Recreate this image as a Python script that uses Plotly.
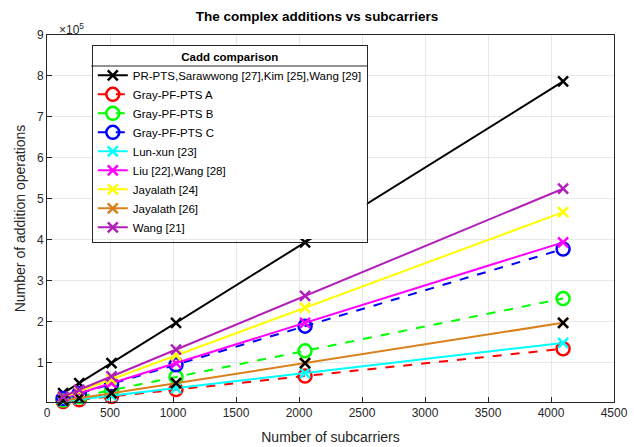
import plotly.graph_objects as go

# Number of subcarriers
subcarriers = [128, 256, 512, 1024, 2048, 4096]

# Complex additions per scheme
pr_pts = [24576, 49152, 98304, 196608, 393216, 786432]
gray_a = [4160, 8320, 16640, 33280, 66560, 133120]
gray_b = [8000, 16000, 32000, 64000, 128000, 256000]
gray_c = [11776, 23552, 47104, 94208, 188416, 376832]
lun_xun = [4608, 9216, 18432, 36864, 73728, 147456]
liu_wang = [12288, 24576, 49152, 98304, 196608, 393216]
jayalath_24 = [14592, 29184, 58368, 116736, 233472, 466944]
jayalath_26 = [6144, 12288, 24576, 49152, 98304, 196608]
wang_21 = [16384, 32768, 65536, 131072, 262144, 524288]

y_ticks = [100000 * k for k in range(1, 10)]
y_tick_text = [str(k) for k in range(1, 10)]
x_ticks = list(range(0, 4501, 500))

series = [
    ("PR-PTS,Sarawwong [27],Kim [25],Wang [29]", pr_pts, "#000000", "solid", "x-thin", 10),
    ("Gray-PF-PTS A", gray_a, "#FF0000", "dash", "circle-open", 13),
    ("Gray-PF-PTS B", gray_b, "#00FF00", "dash", "circle-open", 13),
    ("Gray-PF-PTS C", gray_c, "#0000FF", "dash", "circle-open", 13),
    ("Lun-xun [23]", lun_xun, "#00FFFF", "solid", "x-thin", 10),
    ("Liu [22],Wang [28]", liu_wang, "#FF00FF", "solid", "x-thin", 10),
    ("Jayalath [24]", jayalath_24, "#FFFF00", "solid", "x-thin", 10),
    ("Jayalath [26]", jayalath_26, "#D9801C", "solid", "x-thin", 10),
    ("Wang [21]", wang_21, "#B21FB8", "solid", "x-thin", 10),
]

fig = go.Figure()
for name, vals, color, dash, symbol, size in series:
    fig.add_trace(go.Scatter(
        x=subcarriers, y=vals, name=name, mode="lines+markers",
        line=dict(color=color, width=2, dash=dash),
        marker=dict(symbol=symbol, size=size, color=color,
                    line=dict(color=color, width=2.5)),
        cliponaxis=False,
    ))
    if name == "Jayalath [26]":
        # black cross markers drawn on top of the Jayalath [26] line
        fig.add_trace(go.Scatter(
            x=subcarriers, y=vals, mode="markers", showlegend=False,
            legendgroup=name, hoverinfo="skip",
            marker=dict(symbol="x-thin", size=10, color="#000000",
                        line=dict(color="#000000", width=2.5)),
            cliponaxis=False,
        ))

# legend panel: white backing that hides lines behind it, plus a rule under the title
legend_left, legend_right = 0.080, 0.564
legend_bottom, legend_top = 0.444, 0.970
fig.add_shape(type="rect", xref="paper", yref="paper",
              x0=legend_left, x1=legend_right, y0=legend_bottom, y1=legend_top,
              fillcolor="white", line=dict(width=0), layer="above")
fig.add_shape(type="line", xref="paper", yref="paper",
              x0=legend_left - 0.002, x1=legend_right + 0.002, y0=0.9155, y1=0.9155,
              line=dict(color="#262626", width=1), layer="above")

fig.update_layout(
    width=634, height=447,
    margin=dict(l=47, r=20, t=35, b=45),
    paper_bgcolor="white", plot_bgcolor="white",
    font=dict(family="Liberation Sans, Arial, sans-serif", color="#262626", size=12),
    title=dict(text="<b>The complex additions vs subcarriers</b>", x=0.5, xanchor="center",
               y=0.975, yanchor="top", font=dict(size=13.5, color="#000000")),
    xaxis=dict(range=[0, 4500], tickvals=x_ticks, showgrid=True, gridcolor="#E8E8E8",
               zeroline=False, showline=True, linecolor="#262626", linewidth=1, mirror=True,
               ticks="inside", ticklen=5, tickcolor="#262626", automargin=False,
               title=dict(text="Number of subcarriers", font=dict(size=14), standoff=12)),
    yaxis=dict(range=[3000, 900000], tickvals=y_ticks, ticktext=y_tick_text,
               showgrid=True, gridcolor="#E8E8E8", automargin=False,
               zeroline=False, showline=True, linecolor="#262626", linewidth=1, mirror=True,
               ticks="inside", ticklen=5, tickcolor="#262626",
               title=dict(text="Number of addition operations", font=dict(size=14), standoff=8)),
    legend=dict(x=0.079, y=0.973, xanchor="left", yanchor="top",
                bgcolor="rgba(0,0,0,0)", bordercolor="#262626", borderwidth=1,
                font=dict(size=11.5, color="#000000"),
                title=dict(text="<b>Cadd comparison</b>", side="top center",
                           font=dict(size=11.5, color="#000000")),
                tracegroupgap=0, itemwidth=30),
    showlegend=True,
)

fig.add_annotation(xref="paper", yref="paper", x=0.0, y=1.0, xanchor="left", yanchor="bottom",
                   text="\u00d710<sup>5</sup>", showarrow=False,
                   font=dict(size=12, color="#262626"), xshift=10, yshift=-4)

fig.write_html("out.html")
